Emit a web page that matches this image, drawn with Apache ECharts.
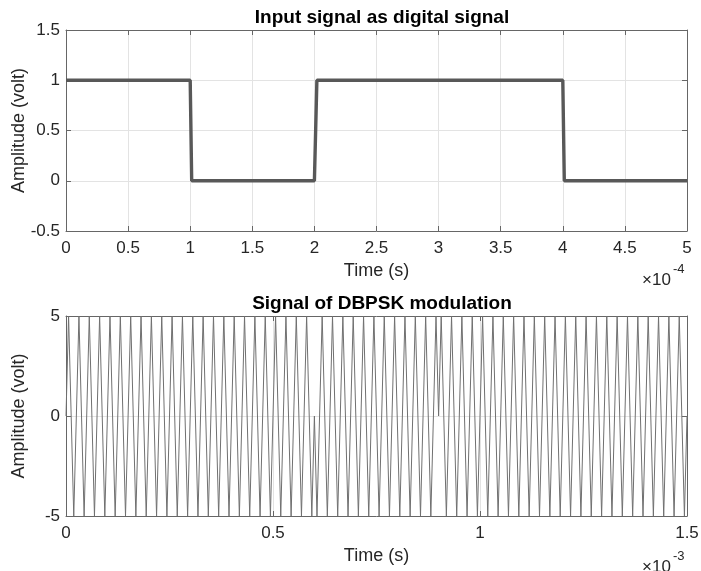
<!DOCTYPE html>
<html>
<head>
<meta charset="utf-8">
<script src="https://cdn.jsdelivr.net/npm/echarts@6/dist/echarts.min.js"></script>
<style>
html,body{margin:0;padding:0;background:#fff;}
#chart{width:701px;height:571px;}
</style>
</head>
<body>
<div id="chart"></div>
<script>
// ---- Top plot: input digital signal (time in units of 1e-4 s) ----
const digitalTime = [0, 1, 1.012, 2, 2.02, 4, 4.012, 5];
const digitalAmp  = [1, 1, 0, 0, 1, 1, 0, 0];
const topXTickLabels = ['0','0.5','1','1.5','2','2.5','3','3.5','4','4.5','5'];
const topYTickLabels = ['-0.5','0','0.5','1','1.5'];

// ---- Bottom plot: DBPSK modulated signal (time in units of 1e-3 s) ----
const modStep = 0.00625; // sample spacing, x10^-3 s
const modAmp = [
  // 0 - 0.6 ms
  0,5,0,-5,0,5,0,-5,0,5,0,-5,0,5,0,-5,0,5,0,-5,0,5,0,-5,
  0,5,0,-5,0,5,0,-5,0,5,0,-5,0,5,0,-5,0,5,0,-5,0,5,0,-5,
  0,5,0,-5,0,5,0,-5,0,5,0,-5,0,5,0,-5,0,5,0,-5,0,5,0,-5,
  0,5,0,-5,0,5,0,-5,0,5,0,-5,0,5,0,-5,0,5,0,-5,0,5,0,-5,
  // 0.6 - 0.9 ms (phase reversed)
  0,-5,0,5,0,-5,0,5,0,-5,0,5,0,-5,0,5,0,-5,0,5,0,-5,0,5,
  0,-5,0,5,0,-5,0,5,0,-5,0,5,0,-5,0,5,0,-5,0,5,0,-5,0,5,
  // 0.9 - 1.5 ms
  0,5,0,-5,0,5,0,-5,0,5,0,-5,0,5,0,-5,0,5,0,-5,0,5,0,-5,
  0,5,0,-5,0,5,0,-5,0,5,0,-5,0,5,0,-5,0,5,0,-5,0,5,0,-5,
  0,5,0,-5,0,5,0,-5,0,5,0,-5,0,5,0,-5,0,5,0,-5,0,5,0,-5,
  0,5,0,-5,0,5,0,-5,0,5,0,-5,0,5,0,-5,0,5,0,-5,0,5,0,-5,
  0
];
const botXTickLabels = ['0','0.5','1','1.5'];
const botYTickLabels = ['-5','0','5'];

const topData = digitalTime.map((t, i) => [t, digitalAmp[i]]);
const botData = modAmp.map((v, i) => [i * modStep, v]);

const FONT = '"Liberation Sans", Arial, Helvetica, sans-serif';
const AX = '#666666';
const TXT = '#262626';
const GRIDC = '#e3e3e3';

function fmtFrom(labels, min, step) {
  return function (v) {
    const idx = Math.round((v - min) / step);
    return labels[idx] !== undefined ? labels[idx] : '';
  };
}

function mainX(gridIndex, min, max, interval, labels, name, nameGap) {
  return {
    type: 'value', gridIndex, min, max, interval, position: 'bottom',
    axisLine: {show: true, onZero: false, lineStyle: {color: AX, width: 1}},
    axisTick: {show: true, inside: true, length: 5, lineStyle: {color: AX}},
    axisLabel: {show: true, color: TXT, fontSize: 17, fontFamily: FONT, margin: 9,
      formatter: fmtFrom(labels, min, interval)},
    splitLine: {show: true, lineStyle: {color: GRIDC, width: 1}},
    name, nameLocation: 'middle', nameGap,
    nameTextStyle: {color: TXT, fontSize: 18, fontFamily: FONT}
  };
}
function sideX(gridIndex, min, max, interval) {
  return {
    type: 'value', gridIndex, min, max, interval, position: 'top',
    axisLine: {show: true, onZero: false, lineStyle: {color: AX, width: 1}},
    axisTick: {show: true, inside: true, length: 5, lineStyle: {color: AX}},
    axisLabel: {show: false}, splitLine: {show: false}
  };
}
function mainY(gridIndex, min, max, interval, labels, nameGap) {
  return {
    type: 'value', gridIndex, min, max, interval, position: 'left',
    axisLine: {show: true, onZero: false, lineStyle: {color: AX, width: 1}},
    axisTick: {show: true, inside: true, length: 5, lineStyle: {color: AX}},
    axisLabel: {show: true, color: TXT, fontSize: 17, fontFamily: FONT, margin: 6,
      formatter: fmtFrom(labels, min, interval)},
    splitLine: {show: true, lineStyle: {color: GRIDC, width: 1}},
    name: 'Amplitude (volt)', nameLocation: 'middle', nameGap, nameRotate: 90,
    nameMoveOverlap: false,
    nameTextStyle: {color: TXT, fontSize: 18, fontFamily: FONT}
  };
}
function sideY(gridIndex, min, max, interval) {
  return {
    type: 'value', gridIndex, min, max, interval, position: 'right',
    axisLine: {show: true, onZero: false, lineStyle: {color: AX, width: 1}},
    axisTick: {show: true, inside: true, length: 5, lineStyle: {color: AX}},
    axisLabel: {show: false}, splitLine: {show: false}
  };
}

const chart = echarts.init(document.getElementById('chart'), null, {renderer: 'canvas'});
chart.setOption({
  animation: false,
  backgroundColor: '#ffffff',
  title: [
    {text: 'Input signal as digital signal', left: 377, top: 3, textAlign: 'center',
     textStyle: {color: '#000', fontSize: 19, fontWeight: 'bold', fontFamily: FONT}},
    {text: 'Signal of DBPSK modulation', left: 377, top: 289, textAlign: 'center',
     textStyle: {color: '#000', fontSize: 19, fontWeight: 'bold', fontFamily: FONT}}
  ],
  grid: [
    {left: 66, top: 30, width: 621, height: 201, show: false, containLabel: false, outerBoundsMode: 'none'},
    {left: 66, top: 316, width: 621, height: 200, show: false, containLabel: false, outerBoundsMode: 'none'}
  ],
  xAxis: [
    mainX(0, 0, 5, 0.5, topXTickLabels, 'Time (s)', 31),
    sideX(0, 0, 5, 0.5),
    mainX(1, 0, 1.5, 0.5, botXTickLabels, 'Time (s)', 31),
    sideX(1, 0, 1.5, 0.5)
  ],
  yAxis: [
    mainY(0, -0.5, 1.5, 0.5, topYTickLabels, 38),
    sideY(0, -0.5, 1.5, 0.5),
    mainY(1, -5, 5, 5, botYTickLabels, 38),
    sideY(1, -5, 5, 5)
  ],
  graphic: [
    {type: 'text', left: 642, top: 272,
     style: {text: '×10', font: '17px ' + FONT, fill: TXT}},
    {type: 'text', left: 673, top: 263,
     style: {text: '-4', font: '13px ' + FONT, fill: TXT}},
    {type: 'text', left: 642, top: 559,
     style: {text: '×10', font: '17px ' + FONT, fill: TXT}},
    {type: 'text', left: 673, top: 550,
     style: {text: '-3', font: '13px ' + FONT, fill: TXT}}
  ],
  series: [
    {type: 'line', xAxisIndex: 0, yAxisIndex: 0, data: topData, showSymbol: false,
     lineStyle: {color: '#585858', width: 3.4}, z: 3},
    {type: 'line', xAxisIndex: 2, yAxisIndex: 2, data: botData, showSymbol: false,
     lineStyle: {color: '#707070', width: 1}, z: 3}
  ]
});
</script>
</body>
</html>
